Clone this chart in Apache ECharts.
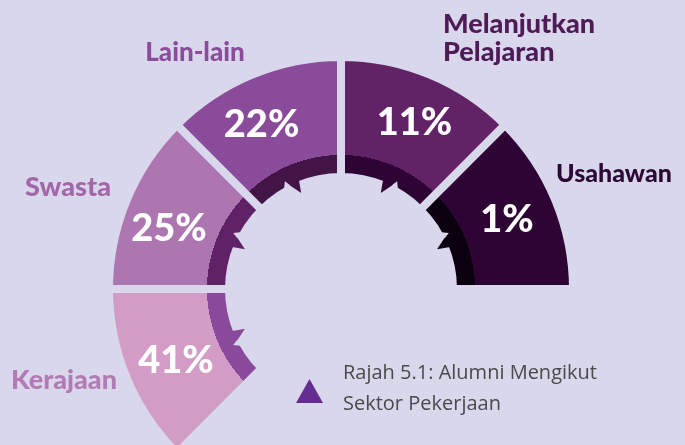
<!DOCTYPE html>
<html>
<head>
<meta charset="utf-8">
<script src="https://cdn.jsdelivr.net/npm/echarts@6/dist/echarts.min.js"></script>
<style>
  html, body { margin: 0; padding: 0; background: #d9d7eb; }
  #chart { width: 685px; height: 445px; }
</style>
</head>
<body>
<div id="chart"></div>
<script>
// ---- data ----
const categories = ['Kerajaan', 'Swasta', 'Lain-lain', 'Melanjutkan\nPelajaran', 'Usahawan'];
const percentages = [41, 25, 22, 11, 1];
// every sector of the gauge occupies the same arc
const segmentWeights = [1, 1, 1, 1, 1];
const captionLines = ['Rajah 5.1: Alumni Mengikut', 'Sektor Pekerjaan'];

// ---- styling ----
const BG = '#d9d7eb';
const FONT = 'Lato, "Open Sans", sans-serif';
const outerColors = ['#d39cc6', '#ad76b0', '#8a4b9a', '#612366', '#2e0434'];
const ringColors  = ['#8a4a9b', '#5f2267', '#431446', '#2e0434', '#0b0010'];
const nameColors  = ['#b47ab6', '#a366a9', '#8b4c9c', '#4f1b56', '#2e0834'];

// ---- geometry ----
const CX = 341, CY = 289;
const R_IN = 116, R_RING = 134, R_OUT = 228, GAP = 8;
const START = 225, SPAN = 225;
const R_DRAW_OUT = R_OUT + GAP / 2;

// name label placement: [x, y (block middle), align, font size]
const nameLayout = [
  [117, 380, 'right', 27],
  [111, 187, 'right', 27],
  [195, 53, 'center', 26],
  [443, 38, 'left', 27],
  [556, 174, 'left', 25]
];
// small pixel nudges for the percentage labels: [dx, dy]
const pctNudge = [[5, 1], [-2, 10], [-9, 6], [3, 4], [-4, 1]];

function sectorFill(i) {
  const k = R_RING / R_DRAW_OUT;
  return {
    type: 'radial', x: CX, y: CY, r: R_DRAW_OUT, global: true,
    colorStops: [
      { offset: 0, color: ringColors[i] },
      { offset: k, color: ringColors[i] },
      { offset: k, color: outerColors[i] },
      { offset: 1, color: outerColors[i] }
    ]
  };
}

const segStep = SPAN / categories.length;
// tooth on the inner ring of each sector: [tipRadius, angle, direction, index]
const toothData = categories.map((_, i) => [104, START - segStep * (i + 0.5), i % 2 === 0 ? 1 : -1, i]);

const chart = echarts.init(document.getElementById('chart'), null, { renderer: 'canvas' });

const graphics = [];
categories.forEach((name, i) => {
  const [x, y, align, size] = nameLayout[i];
  graphics.push({
    type: 'text', x: x, y: y, silent: true,
    style: {
      text: name, fill: nameColors[i], font: '900 ' + size + 'px ' + FONT,
      textAlign: align, textVerticalAlign: 'middle', lineHeight: 28
    }
  });
});
graphics.push({
  type: 'polygon', silent: true,
  shape: { points: [[296, 403], [309.5, 379], [323, 403]] },
  style: { fill: '#662d91' }
});
graphics.push({
  type: 'text', x: 343, y: 389, silent: true,
  style: {
    text: captionLines.join('\n'), fill: '#4a4a4a', font: '20px "Open Sans", sans-serif',
    textVerticalAlign: 'middle', lineHeight: 31
  }
});

chart.setOption({
  backgroundColor: BG,
  animation: false,
  polar: { center: [CX, CY], radius: R_OUT },
  angleAxis: { type: 'value', min: 0, max: 360, startAngle: 0, clockwise: false, show: false },
  radiusAxis: { type: 'value', min: 0, max: R_OUT, show: false },
  series: [
    {
      type: 'pie', center: [CX, CY], radius: [R_IN - GAP / 2, R_DRAW_OUT],
      startAngle: START, endAngle: START - SPAN, clockwise: true,
      silent: true, z: 2,
      label: { show: false }, labelLine: { show: false },
      itemStyle: { borderColor: BG, borderWidth: GAP },
      data: segmentWeights.map((v, i) => ({ value: v, name: categories[i], itemStyle: { color: sectorFill(i) } }))
    },
    {
      type: 'custom', coordinateSystem: 'polar', silent: true, z: 5,
      data: toothData,
      renderItem: function (params, api) {
        const r = api.value(0), a = api.value(1), d = api.value(2), i = api.value(3);
        const P = (rr, aa) => api.coord([rr, aa]);
        return {
          type: 'group',
          children: [
            { type: 'polygon', shape: { points: [P(r, a), P(118, a - d * 1.5), P(118, a + d * 4.5)] }, style: { fill: ringColors[i] } },
            { type: 'polygon', shape: { points: [P(115.5, a + d * 3.6), P(121.5, a + d * 5), P(115.5, a + d * 7)] }, style: { fill: BG } }
          ]
        };
      }
    },
    {
      type: 'pie', center: [CX, CY], radius: [R_RING, R_OUT],
      startAngle: START, endAngle: START - SPAN, clockwise: true,
      silent: true, z: 6,
      itemStyle: { color: 'rgba(0,0,0,0)' },
      labelLine: { show: false },
      label: {
        show: true, position: 'inside', color: '#ffffff',
        fontFamily: FONT, fontWeight: 900, fontSize: 38,
        formatter: p => percentages[p.dataIndex] + '%'
      },
      labelLayout: p => ({ dx: pctNudge[p.dataIndex][0], dy: pctNudge[p.dataIndex][1] }),
      data: segmentWeights.map((v, i) => ({ value: v, name: categories[i] }))
    }
  ],
  graphic: graphics
});
</script>
</body>
</html>
